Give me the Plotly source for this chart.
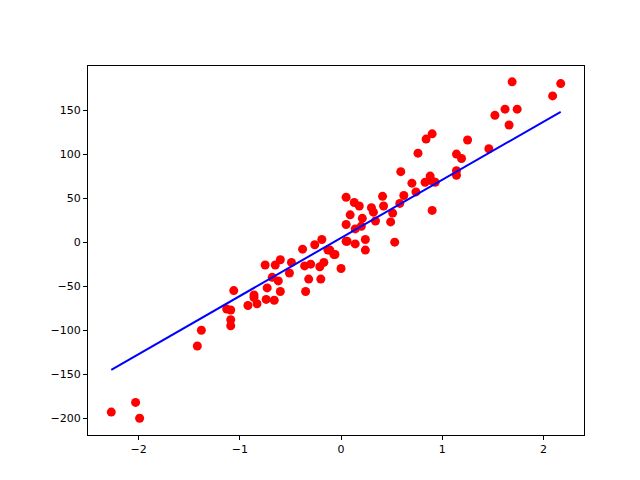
import plotly.graph_objects as go

x_pts = [-2.27, -2.03, -1.99, -1.42, -1.38, -1.09, -1.09, -1.13, -1.09, -1.06,
         -0.92, -0.83, -0.86, -0.86, -0.74, -0.66, -0.73, -0.60, -0.68, -0.62,
         -0.60, -0.75, -0.65, -0.49, -0.51, -0.38, -0.35, -0.32, -0.20, -0.36,
         -0.30, -0.21, -0.17, -0.26, -0.19, -0.13, -0.06, 0.00, 0.05, 1.69,
         2.17, 2.09, 1.52, 1.62, 1.74, 1.66, 0.84, 0.90, 1.25, 0.76,
         1.14, 1.19, 1.46, 0.59, 1.14, 1.14, 0.88, 0.89, 0.83, 0.93,
         0.70, 0.74, 0.62, 0.58, 0.41, 0.05, 0.13, 0.18, 0.30, 0.42,
         0.09, 0.21, 0.32, 0.51, 0.34, 0.49, 0.05, 0.14, 0.20, 0.90,
         0.24, 0.06, 0.14, 0.24, 0.53, -0.11, -0.07]
y_pts = [-193, -182, -200, -118, -100, -95, -88, -76, -77, -55,
         -72, -70, -60, -63, -65, -66, -52, -56, -40, -44,
         -20, -26, -26, -23, -35, -8, -56, -42, -42, -27,
         -25, -28, -23, -3, 3, -9, -14, -30, 1, 182,
         180, 166, 144, 151, 151, 133, 117, 123, 116, 101,
         100, 95, 106, 80, 81, 76, 75, 70, 68, 68,
         67, 57, 53, 44, 52, 51, 45, 41, 39, 41,
         31, 27, 34, 33, 24, 23, 20, 15, 18, 36,
         3, 1, -2, -9, 0, -9, -14]

line_x = [-2.27, 2.17]
line_y = [-145, 148]

fig = go.Figure()
fig.add_trace(go.Scatter(x=x_pts, y=y_pts, mode="markers",
                         marker=dict(color="red", size=9)))
fig.add_trace(go.Scatter(x=line_x, y=line_y, mode="lines",
                         line=dict(color="blue", width=2)))

axis = dict(showgrid=False, zeroline=False, showline=True, linecolor="black",
            mirror=True, ticks="outside", ticklen=4, tickcolor="black",
            automargin=False, tickfont=dict(size=11, color="black"))
fig.update_layout(
    width=640, height=480,
    paper_bgcolor="white", plot_bgcolor="white",
    margin=dict(l=80, r=64, t=58, b=53),
    showlegend=False,
    font=dict(family="DejaVu Sans"),
    xaxis=dict(axis, range=[-2.5, 2.4], tickvals=[-2, -1, 0, 1, 2]),
    yaxis=dict(axis, range=[-219, 200], tickvals=[-200, -150, -100, -50, 0, 50, 100, 150]),
)
fig.write_html("out.html")
